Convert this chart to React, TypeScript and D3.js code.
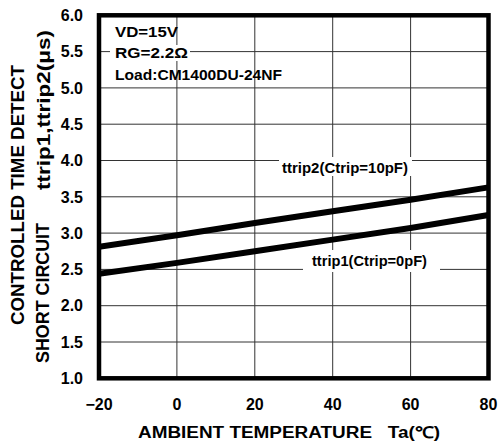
import React from "react";
import * as d3 from "d3";

const temps = [-20, 0, 20, 40, 60, 80];
const ttrip2 = [2.81, 2.97, 3.14, 3.3, 3.46, 3.63];
const ttrip1 = [2.44, 2.59, 2.75, 2.91, 3.07, 3.25];
const xTicks = [-20, 0, 20, 40, 60, 80];
const yTicks = [1.0, 1.5, 2.0, 2.5, 3.0, 3.5, 4.0, 4.5, 5.0, 5.5, 6.0];
const conditions = ["VD=15V", "RG=2.2Ω", "Load:CM1400DU-24NF"];

const W = 498;
const H = 443;
const FONT = "'Liberation Sans', Arial, sans-serif";

export default function App() {
  const x = d3.scaleLinear().domain([-20, 80]).range([99, 488.5]);
  const y = d3.scaleLinear().domain([1, 6]).range([378.3, 15.3]);
  const line = d3
    .line<number>()
    .x((_, i) => x(temps[i]))
    .y((d) => y(d));

  const condY = [37, 58, 80];
  const condLen = [63, 73, 167];

  return (
    <svg
      width={W}
      height={H}
      style={{ position: "absolute", left: 0, top: 0, background: "#fff" }}
      fontFamily={FONT}
      fontWeight="bold"
    >
      <rect x={0} y={0} width={W} height={H} fill="#fff" />
      <defs>
        <clipPath id="plot">
          <rect x={x(-20)} y={y(6)} width={x(80) - x(-20)} height={y(1) - y(6)} />
        </clipPath>
      </defs>
      {/* grid */}
      {xTicks.slice(1, -1).map((t) => (
        <line key={"gx" + t} x1={x(t)} x2={x(t)} y1={y(6)} y2={y(1)} stroke="#333" strokeWidth={1} />
      ))}
      {yTicks.slice(1, -1).map((t) => (
        <line key={"gy" + t} x1={x(-20)} x2={x(80)} y1={y(t)} y2={y(t)} stroke="#333" strokeWidth={1} />
      ))}
      {/* label backgrounds */}
      <rect x={110} y={45} width={80} height={16} fill="#fff" />
      <rect x={279} y={157} width={133} height={19} fill="#fff" />
      <rect x={303} y={250} width={137} height={22} fill="#fff" />
      {/* curves */}
      <g clipPath="url(#plot)">
        <path d={line(ttrip2) || ""} fill="none" stroke="#000" strokeWidth={6} />
        <path d={line(ttrip1) || ""} fill="none" stroke="#000" strokeWidth={6} />
      </g>
      {/* frame */}
      <rect
        x={x(-20)}
        y={y(6)}
        width={x(80) - x(-20)}
        height={y(1) - y(6)}
        fill="none"
        stroke="#000"
        strokeWidth={4.5}
      />
      {/* y ticks */}
      {yTicks.map((t) => (
        <text key={"yt" + t} x={83} y={y(t)} dy="0.36em" textAnchor="end" fontSize={16}>
          {t.toFixed(1)}
        </text>
      ))}
      {/* x ticks */}
      {xTicks.map((t) => (
        <text key={"xt" + t} x={x(t)} y={410} textAnchor="middle" fontSize={16}>
          {t < 0 ? "−" + Math.abs(t) : String(t)}
        </text>
      ))}
      {/* axis titles */}
      <text
        x={289}
        y={438}
        textAnchor="middle"
        fontSize={16}
        textLength={302}
        lengthAdjust="spacingAndGlyphs"
        style={{ whiteSpace: "pre" }}
      >
        {"AMBIENT TEMPERATURE   Ta(℃)"}
      </text>
      <text
        transform="translate(24,195) rotate(-90)"
        textAnchor="middle"
        fontSize={18}
        textLength={260}
        lengthAdjust="spacingAndGlyphs"
      >
        CONTROLLED TIME DETECT
      </text>
      <text
        transform="translate(49,293) rotate(-90)"
        textAnchor="middle"
        fontSize={18}
        textLength={140}
        lengthAdjust="spacingAndGlyphs"
      >
        SHORT CIRCUIT
      </text>
      <text
        transform="translate(50,110) rotate(-90)"
        textAnchor="middle"
        fontSize={18}
        textLength={160}
        lengthAdjust="spacingAndGlyphs"
      >
        ttrip1,ttrip2(μs)
      </text>
      {/* conditions */}
      {conditions.map((c, i) => (
        <text key={c} x={115} y={condY[i]} fontSize={14} textLength={condLen[i]} lengthAdjust="spacingAndGlyphs">
          {c}
        </text>
      ))}
      {/* curve labels */}
      <text x={282} y={173} fontSize={14} textLength={126} lengthAdjust="spacingAndGlyphs">
        ttrip2(Ctrip=10pF)
      </text>
      <text x={312} y={266} fontSize={14} textLength={115} lengthAdjust="spacingAndGlyphs">
        ttrip1(Ctrip=0pF)
      </text>
    </svg>
  );
}
